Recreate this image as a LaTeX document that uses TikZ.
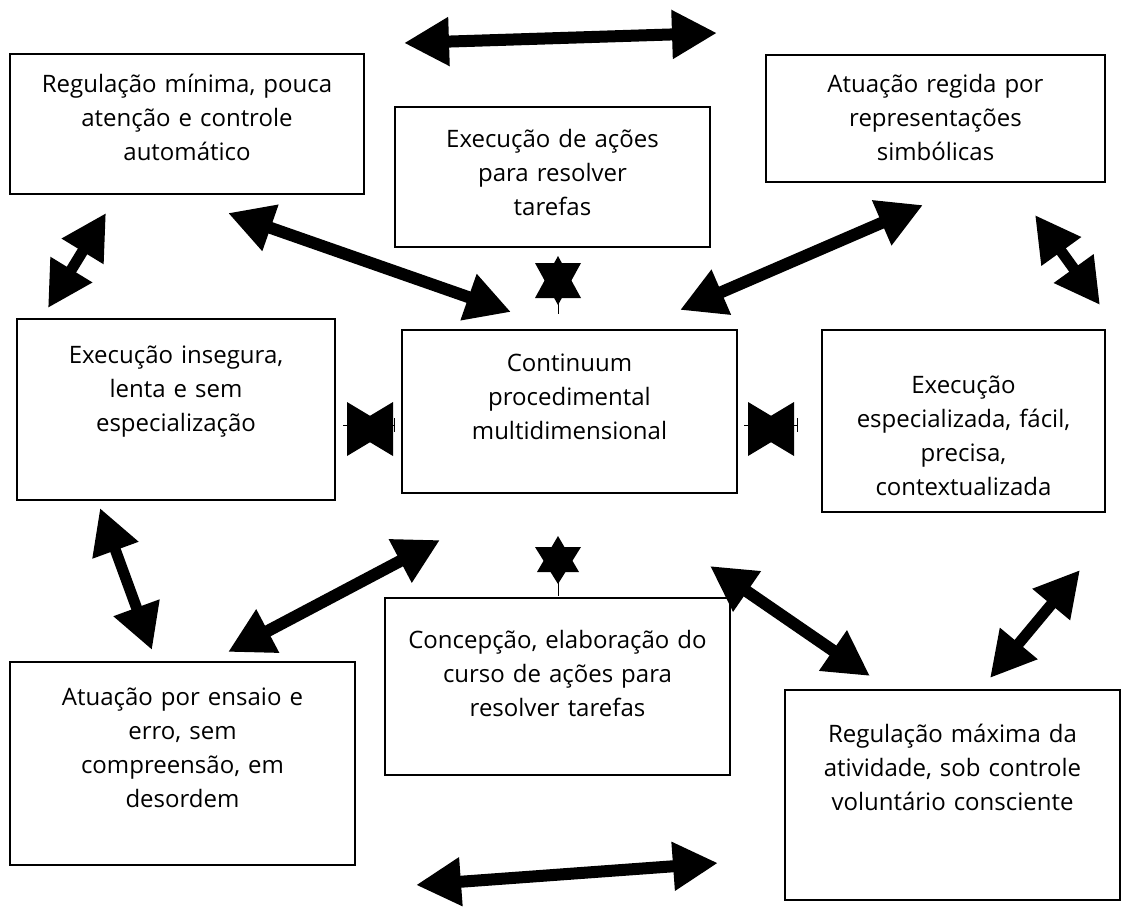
\documentclass[tikz,border=0pt]{standalone}
\usepackage{fontspec}
\newfontfamily\cf{Open Sans}
\usetikzlibrary{arrows.meta}
\begin{document}
\begin{tikzpicture}[x=1pt,y=-1pt,
  box/.style={draw=black,line width=1.5pt,minimum width=#1,inner sep=0pt},
  txt/.style={font=\cf\fontsize{24}{34}\selectfont,align=center,text width=360pt,anchor=base,inner sep=0pt},
  big/.style={line width=12pt,arrows={Triangle[length=45pt,width=46pt]-Triangle[length=45pt,width=46pt]}},
  tiny/.style={fill=black}]
\useasboundingbox (0,0) rectangle (1133,918);
% boxes
\node[box=354pt,minimum height=140pt] (tl) at (187,124) {};
\node[box=315pt,minimum height=140pt] (tc) at (552.5,177) {};
\node[box=339pt,minimum height=127pt] (tr) at (935.5,118.5) {};
\node[box=318pt,minimum height=181pt] (ml) at (176,409.5) {};
\node[box=335pt,minimum height=163pt] (c) at (569.5,411.5) {};
\node[box=283pt,minimum height=182pt] (mr) at (963.5,421) {};
\node[box=345pt,minimum height=177pt] (bc) at (557.5,686.5) {};
\node[box=345pt,minimum height=203pt] (bl) at (182.5,763.5) {};
\node[box=335pt,minimum height=210pt] (br) at (952.5,795) {};
% texts
\node[txt] (tlt) at (187,92) {Regulação mínima, pouca\\atenção e controle\\automático};
\node[txt] (tct) at (552.5,147) {Execução de ações\\para resolver\\tarefas};
\node[txt] (trt) at (935.5,92) {Atuação regida por\\representações\\simbólicas};
\node[txt] (mlt) at (176,363) {Execução insegura,\\lenta e sem\\especialização};
\node[txt] (ct) at (569.5,371) {Continuum\\procedimental\\multidimensional};
\node[txt] (mrt) at (963.5,393) {Execução\\especializada, fácil,\\precisa,\\contextualizada};
\node[txt] (bct) at (557.5,648) {Concepção, elaboração do\\curso de ações para\\resolver tarefas};
\node[txt] (blt) at (182.5,705) {Atuação por ensaio e\\erro, sem\\compreensão, em\\desordem};
\node[txt] (brt) at (952.5,742) {Regulação máxima da\\atividade, sob controle\\voluntário consciente};
% arrow end points
\coordinate (a1) at (404,43);  \coordinate (a2) at (717,33);
\coordinate (b1) at (416,885); \coordinate (b2) at (718,863);
\coordinate (c1) at (228,213); \coordinate (c2) at (511,312);
\coordinate (d1) at (106,213); \coordinate (d2) at (48,308);
\coordinate (e1) at (923,205); \coordinate (e2) at (680,310);
\coordinate (f1) at (1035,215); \coordinate (f2) at (1100,305);
\coordinate (g1) at (100,508); \coordinate (g2) at (152,650);
\coordinate (h1) at (228,652); \coordinate (h2) at (440,540);
\coordinate (i1) at (710,566); \coordinate (i2) at (870,676);
\coordinate (j1) at (1080,570); \coordinate (j2) at (990,678);
\draw[big] (a1) -- (a2);
\draw[big] (b1) -- (b2);
\draw[big] (c1) -- (c2);
\draw[big,line width=11pt] (d1) -- (d2);
\draw[big] (e1) -- (e2);
\draw[big,line width=11pt] (f1) -- (f2);
\draw[big,line width=11pt] (g1) -- (g2);
\draw[big] (h1) -- (h2);
\draw[big] (i1) -- (i2);
\draw[big,line width=11pt] (j1) -- (j2);
% degenerate tiny double arrows
% top vertical star
\fill[tiny] (558,256) -- (581,298) -- (535,298) -- cycle;
\fill[tiny] (558,305) -- (581,263) -- (535,263) -- cycle;
\draw[line width=1pt] (558,300) -- (558,314);
% bottom vertical star
\fill[tiny] (558,536) -- (579,572) -- (537,572) -- cycle;
\fill[tiny] (558,584) -- (581,547) -- (535,547) -- cycle;
\draw[line width=1pt] (558,580) -- (558,596);
% left bowtie
\fill[tiny] (347,402) -- (392,429) -- (347,456) -- cycle;
\fill[tiny] (393,402) -- (348,429) -- (393,456) -- cycle;
\draw[line width=1pt] (343,425) -- (394,425);
\draw[line width=1pt] (394,418) -- (394,432);
% right bowtie
\fill[tiny] (748,402) -- (793,429) -- (748,456) -- cycle;
\fill[tiny] (794,402) -- (749,429) -- (794,456) -- cycle;
\draw[line width=1pt] (744,425) -- (797,425);
\draw[line width=1pt] (797,418) -- (797,432);
\end{tikzpicture}
\end{document}
